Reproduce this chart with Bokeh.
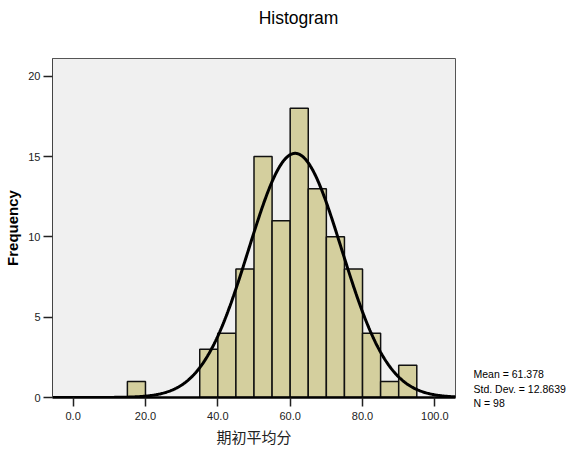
import numpy as np
from bokeh.plotting import figure
from bokeh.models import Range1d, FixedTicker, NumeralTickFormatter, LinearAxis
from bokeh.embed import file_html
from bokeh.resources import INLINE

# ---- data ----
bin_left = [15, 35, 40, 45, 50, 55, 60, 65, 70, 75, 80, 85, 90]
counts = [1, 3, 4, 8, 15, 11, 18, 13, 10, 8, 4, 1, 2]
bin_width = 5
mean_val = 61.378
std_val = 12.8639
n_val = 98
x_ticks = [0, 20, 40, 60, 80, 100]
y_ticks = [0, 5, 10, 15, 20]
title_text = "Histogram"
x_label = "期初平均分"
y_label = "Frequency"
stats_lines = ["Mean = 61.378", "Std. Dev. = 12.8639", "N = 98"]

XMIN, XMAX = -5.7, 105.7
YMIN, YMAX = 0, 21.1

W, H = 574, 450
BL, BR, BT, BB = 52, 119, 58, 53

FONT = "Liberation Sans"

p = figure(width=W, height=H, x_range=Range1d(XMIN, XMAX), y_range=Range1d(YMIN, YMAX),
           output_backend="svg", toolbar_location=None, title=None,
           min_border_left=BL, min_border_right=BR, min_border_top=BT, min_border_bottom=BB)

p.background_fill_color = "#F0F0F0"
p.border_fill_color = "white"
p.outline_line_color = "#555555"
p.outline_line_width = 1
p.grid.visible = False

rights = [l + bin_width for l in bin_left]
p.quad(left=bin_left, right=rights, top=counts, bottom=0,
       fill_color="#D4CF9E", line_color="#111111", line_width=1.5)

xs = np.linspace(XMIN, XMAX, 500)
ys = n_val * bin_width * np.exp(-0.5 * ((xs - mean_val) / std_val) ** 2) / (std_val * np.sqrt(2 * np.pi))
p.line(xs, ys, line_color="black", line_width=3)

for ax in (p.xaxis[0], p.yaxis[0]):
    ax.minor_tick_line_color = None
    ax.major_tick_in = 0
    ax.major_tick_out = 9
    ax.major_tick_line_color = "#222222"
    ax.major_tick_line_width = 1.5
    ax.major_label_text_font = FONT
    ax.major_label_text_font_size = "11px"
    ax.major_label_text_color = "#222222"

p.xaxis.ticker = FixedTicker(ticks=x_ticks)
p.xaxis.formatter = NumeralTickFormatter(format="0.0")
p.xaxis.axis_line_color = "black"
p.xaxis.axis_line_width = 2.5
p.xaxis.major_label_standoff = 5
p.xaxis.axis_label = x_label
p.xaxis.axis_label_text_font = "Noto Sans CJK SC"
p.xaxis.axis_label_text_font_size = "15px"
p.xaxis.axis_label_text_font_style = "normal"
p.xaxis.axis_label_text_color = "#222222"
p.xaxis.axis_label_standoff = 3

p.yaxis.ticker = FixedTicker(ticks=y_ticks)
p.yaxis.axis_line_color = "#444444"
p.yaxis.axis_line_width = 1
p.yaxis.major_label_standoff = 3
p.yaxis.axis_label = y_label
p.yaxis.axis_label_text_font = FONT
p.yaxis.axis_label_text_font_size = "15px"
p.yaxis.axis_label_text_font_style = "bold"
p.yaxis.axis_label_text_color = "black"
p.yaxis.axis_label_standoff = 4

# chart title as the single label of an axis above the frame (pixel range across the frame)
p.extra_x_ranges = {"pxx": Range1d(start=BL, end=W - BR)}
title_ax = LinearAxis(x_range_name="pxx", ticker=FixedTicker(ticks=[298]),
                      major_label_overrides={298: title_text},
                      axis_line_color=None, major_tick_line_color=None,
                      minor_tick_line_color=None, major_tick_out=0, major_tick_in=0,
                      minor_tick_out=0, minor_tick_in=0, major_label_standoff=31,
                      major_label_text_font=FONT, major_label_text_font_size="17.5px",
                      major_label_text_color="black")
p.add_layout(title_ax, "above")

# summary statistics as a multi-line label of a right-side axis (pixel range, y downward)
p.extra_y_ranges = {"px": Range1d(start=H - BB, end=BT)}
stats_ax = LinearAxis(y_range_name="px", ticker=FixedTicker(ticks=[388]),
                      major_label_overrides={388: "\n".join(stats_lines)},
                      axis_line_color=None, major_tick_line_color=None,
                      minor_tick_line_color=None, major_tick_out=0, major_tick_in=0,
                      minor_tick_out=0, minor_tick_in=0, major_label_standoff=18,
                      major_label_text_font=FONT, major_label_text_font_size="10.5px",
                      major_label_text_color="black", major_label_text_line_height=1.2)
p.add_layout(stats_ax, "right")

open("out.html", "w").write(file_html(p, INLINE))
